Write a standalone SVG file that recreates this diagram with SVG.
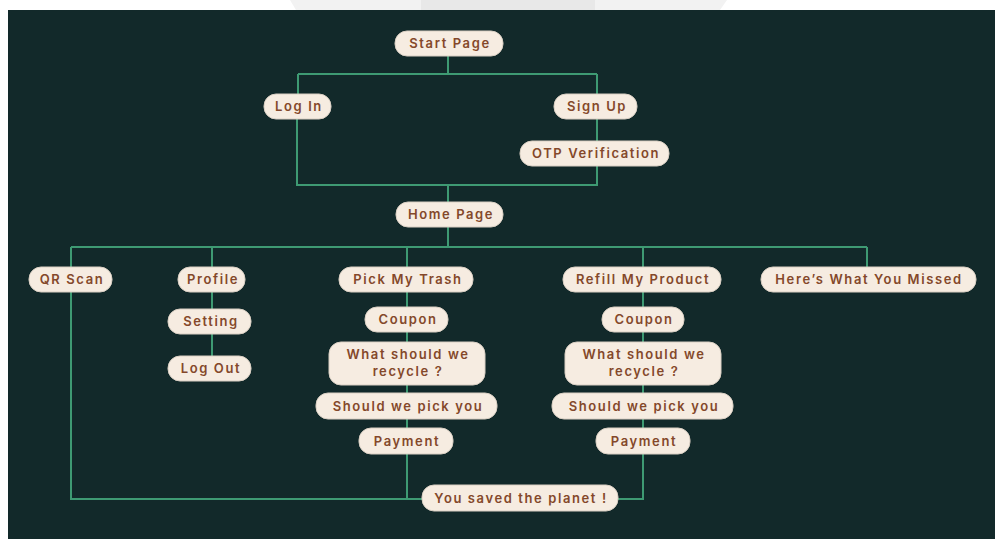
<svg xmlns="http://www.w3.org/2000/svg" width="995" height="539" viewBox="0 0 995 539">
<style>
.n rect{fill:#f6ece1;stroke:#d9cfc3;stroke-width:1}
.n text{font-family:Inter,"Liberation Sans",sans-serif;font-weight:600;font-size:13px;letter-spacing:1.6px;fill:#84482a;text-anchor:middle}
.c path{fill:none;stroke:#3e9a73;stroke-width:2}
</style>
<rect x="0" y="0" width="995" height="539" fill="#ffffff"/>
<polygon points="290,0 727,0 720,10 296,10" fill="#f2f2f2"/>
<rect x="421" y="0" width="174" height="10" fill="#e8e8e8"/>
<rect x="8" y="10" width="987" height="529" fill="#12292a"/>
<g class="c">
<path d="M448,55 V74 M298,74 H597 M298,74 V94 M597,74 V94"/>
<path d="M597,119 V141 M297,119 V185 H597 V166 M448,185 V202"/>
<path d="M448,227 V247 M71,247 H867 M71,247 V267 M212,247 V267 M407,247 V267 M643,247 V267 M867,247 V267"/>
<path d="M212,292 V309 M212,334 V356"/>
<path d="M407,292 V307 M407,332 V342 M407,385 V393 M407,419 V428"/>
<path d="M643,292 V307 M643,332 V342 M643,385 V393 M643,419 V428"/>
<path d="M71,292 V499 H422 M407,454 V499 M643,454 V499 H618"/>
</g>
<g id="start" class="n"><rect x="395" y="31" width="108" height="25" rx="12"/><text x="450" y="48">Start Page</text></g>
<g id="login" class="n"><rect x="264" y="94" width="67" height="25" rx="12"/><text x="299" y="111">Log In</text></g>
<g id="signup" class="n"><rect x="554" y="94" width="83" height="25" rx="12"/><text x="597" y="111">Sign Up</text></g>
<g id="otp" class="n"><rect x="520" y="141" width="149" height="25" rx="12"/><text x="596" y="158">OTP Verification</text></g>
<g id="home" class="n"><rect x="396" y="202" width="107" height="25" rx="12"/><text x="451" y="219">Home Page</text></g>
<g id="qr" class="n"><rect x="29" y="267" width="83" height="25" rx="12"/><text x="72" y="284">QR Scan</text></g>
<g id="profile" class="n"><rect x="178" y="267" width="67" height="25" rx="12"/><text x="213" y="284">Profile</text></g>
<g id="setting" class="n"><rect x="168" y="309" width="83" height="25" rx="12"/><text x="211" y="326">Setting</text></g>
<g id="logout" class="n"><rect x="168" y="356" width="83" height="25" rx="12"/><text x="211" y="373">Log Out</text></g>
<g id="pick" class="n"><rect x="339" y="267" width="134" height="25" rx="12"/><text x="408" y="284">Pick My Trash</text></g>
<g id="coupon1" class="n"><rect x="365" y="307" width="83" height="25" rx="12"/><text x="408" y="324">Coupon</text></g>
<g id="recycle1" class="n"><rect x="329" y="342" width="156" height="43" rx="12"/><text x="408" y="359">What should we</text><text x="408" y="376">recycle ?</text></g>
<g id="pickyou1" class="n"><rect x="316" y="393" width="181" height="26" rx="12"/><text x="408" y="411">Should we pick you</text></g>
<g id="pay1" class="n"><rect x="359" y="428" width="94" height="26" rx="12"/><text x="407" y="446">Payment</text></g>
<g id="refill" class="n"><rect x="563" y="267" width="158" height="25" rx="12"/><text x="643" y="284">Refill My Product</text></g>
<g id="missed" class="n"><rect x="761" y="267" width="215" height="25" rx="12"/><text x="869" y="284">Here’s What You Missed</text></g>
<g id="coupon2" class="n"><rect x="602" y="307" width="82" height="25" rx="12"/><text x="644" y="324">Coupon</text></g>
<g id="recycle2" class="n"><rect x="565" y="342" width="156" height="43" rx="12"/><text x="644" y="359">What should we</text><text x="644" y="376">recycle ?</text></g>
<g id="pickyou2" class="n"><rect x="552" y="393" width="181" height="26" rx="12"/><text x="644" y="411">Should we pick you</text></g>
<g id="pay2" class="n"><rect x="596" y="428" width="94" height="26" rx="12"/><text x="644" y="446">Payment</text></g>
<g id="saved" class="n"><rect x="422" y="485" width="196" height="26" rx="12"/><text x="521" y="503">You saved the planet !</text></g>
</svg>
